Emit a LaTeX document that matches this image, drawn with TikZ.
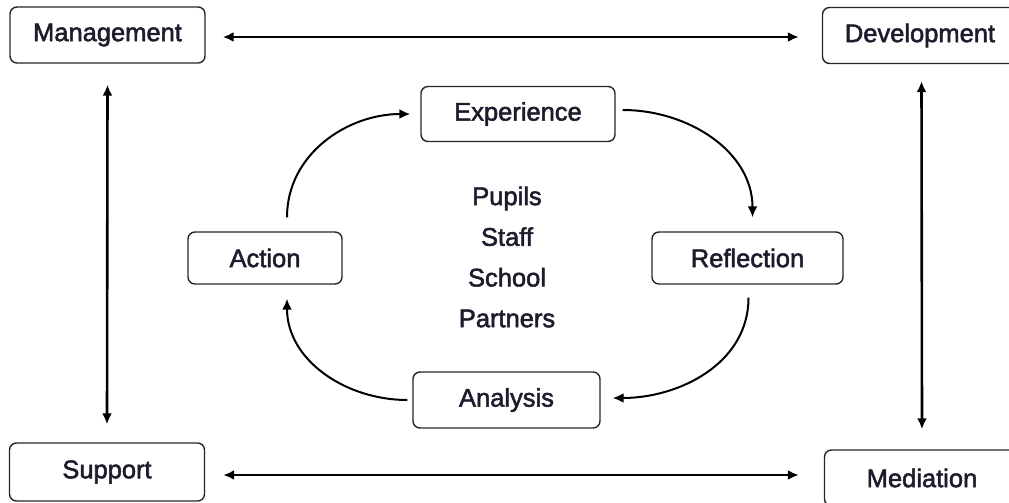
\documentclass[tikz,border=0pt]{standalone}
\usepackage{fontspec}
\setmainfont{Liberation Sans}
\newfontfamily\medfont{Liberation Sans}[FakeBold=2]
\usetikzlibrary{arrows.meta}
\definecolor{txt}{HTML}{1C1C2C}
\begin{document}
\begin{tikzpicture}[x=1pt,y=-1pt,
  box/.style={draw=black!85,line width=1.4pt,rounded corners=7pt,text=txt,
    font=\medfont\fontsize{25.5}{28}\selectfont,inner sep=0pt},
  outer/.style={box,minimum width=195pt,minimum height=56pt},
  inner/.style={box,minimum height=55pt},
  dbl/.style={line width=2.6pt,{Latex[length=11pt,width=10pt]}-{Latex[length=11pt,width=10pt]}},
  cyc/.style={line width=2pt,-{Latex[length=11pt,width=10pt]}}]
\useasboundingbox (0,0) rectangle (1009,503);
\node[outer] (mgmt) at (107.5,35) {Management};
\node[outer] (dev) at (920,35.5) {Development};
\node[outer,minimum height=58pt] (sup) at (107,472) {Support};
\node[outer] (med) at (922,478) {Mediation};
\node[inner,minimum width=194pt] (exp) at (518,114) {Experience};
\node[inner,minimum width=154pt,minimum height=52pt] (act) at (265,258) {Action};
\node[inner,minimum width=191pt,minimum height=52pt] (refl) at (747.5,258) {Reflection};
\node[inner,minimum width=187pt,minimum height=56pt] (ana) at (506.5,400) {Analysis};
\node[text=txt,font=\medfont\fontsize{25.5}{40.7}\selectfont,align=center] (ctr) at (507,257) {Pupils\\Staff\\School\\Partners};
\draw[dbl] ([xshift=17pt,yshift=-2pt]mgmt.east) -- ([xshift=-23pt,yshift=-1.5pt]dev.west);
\draw[dbl] ([xshift=18pt,yshift=-3pt]sup.east) -- ([xshift=-25pt,yshift=3pt]med.west);
\draw[dbl] ([yshift=-21pt]mgmt.south) -- ([yshift=18pt]sup.north);
\draw[dbl] ([xshift=1.5pt,yshift=-17pt]dev.south) -- ([yshift=20pt]med.north);
\draw[cyc] ([xshift=22pt,yshift=14pt]act.north) to[out=90,in=180] ([xshift=-10pt]exp.west);
\draw[cyc] ([xshift=7pt,yshift=4pt]exp.east) to[out=0,in=90] ([xshift=5pt,yshift=14pt]refl.north);
\draw[cyc] ([xshift=1pt,yshift=-13pt]refl.south) to[out=-90,in=0] ([xshift=12pt,yshift=2pt]ana.east);
\draw[cyc] ([xshift=-5pt]ana.west) to[out=180,in=-90] ([xshift=22pt,yshift=-14pt]act.south);
\end{tikzpicture}
\end{document}
